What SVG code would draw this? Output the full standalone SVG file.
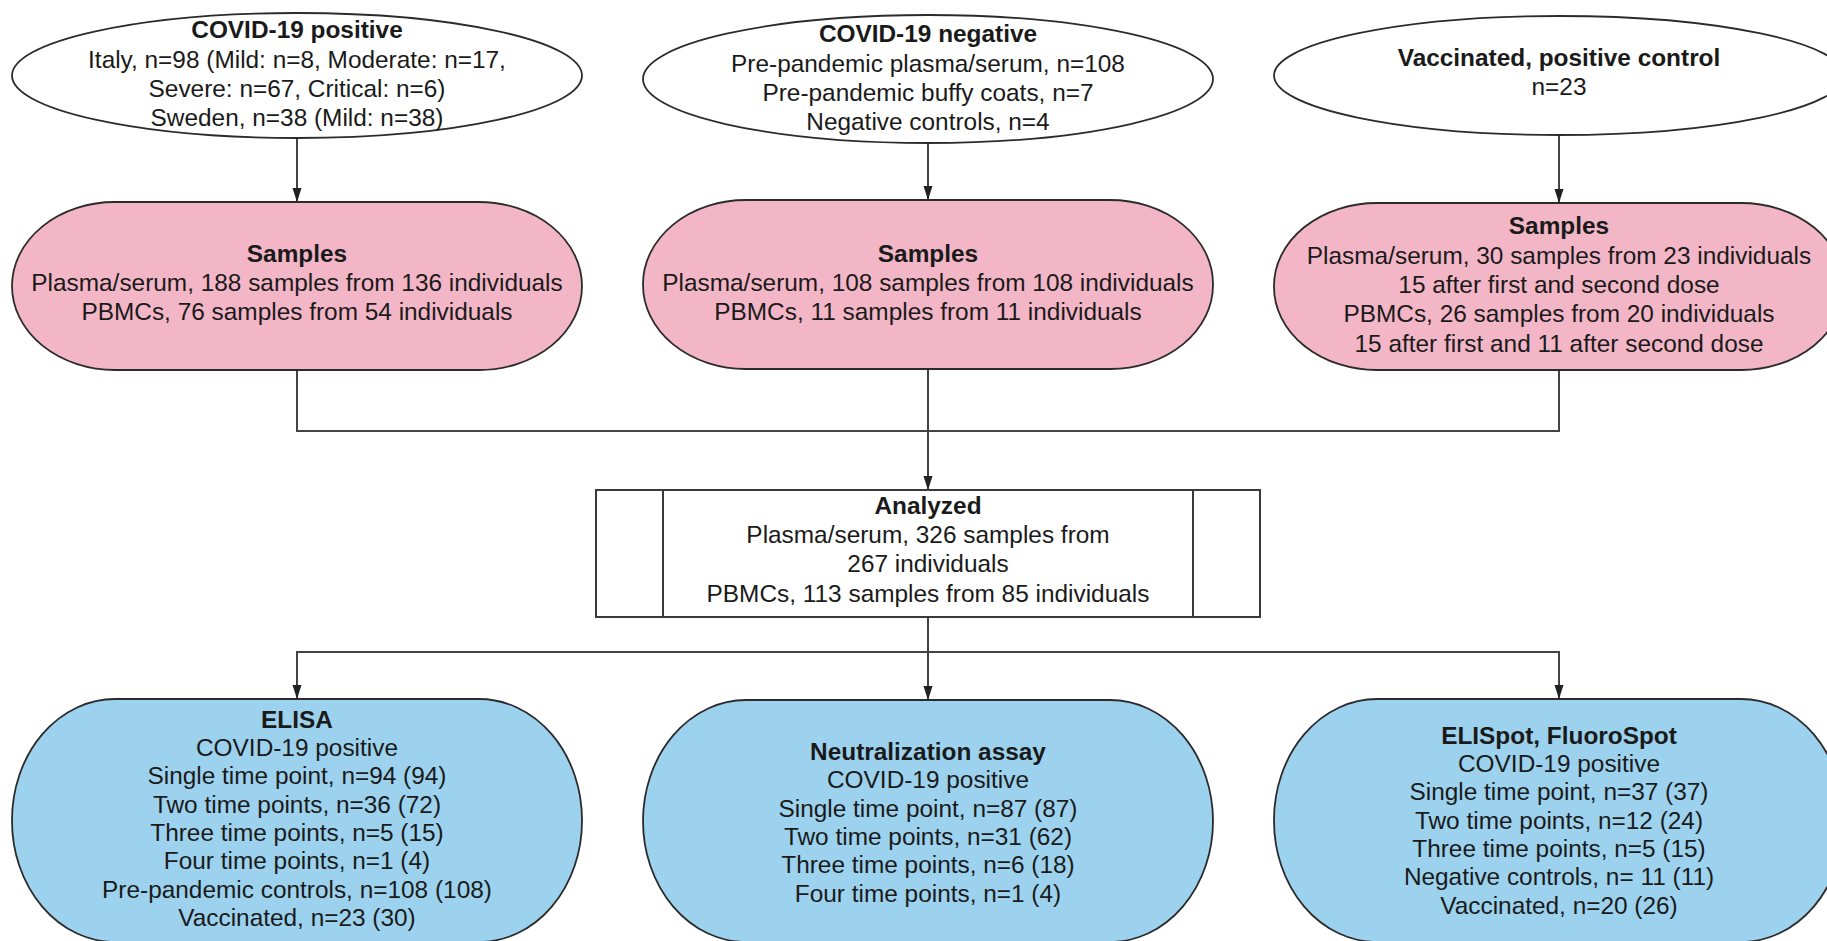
<svg xmlns="http://www.w3.org/2000/svg" width="1827" height="941" viewBox="0 0 1827 941">
<defs>
<style>
.t{font-family:"Liberation Sans",Arial,sans-serif;font-size:24.4px;fill:#1a1a1a;text-anchor:middle}
.b{font-weight:bold}
.wh{fill:#ffffff;stroke:#2b2b2b;stroke-width:1.8}
.pk{fill:#F3B6C6;stroke:#2b2b2b;stroke-width:1.8}
.bl{fill:#9CD2EE;stroke:#2b2b2b;stroke-width:1.8}
.box{fill:#ffffff;stroke:#3a3a3a;stroke-width:2}
.c{fill:none;stroke:#444;stroke-width:2}
</style>
<marker id="ah" markerUnits="userSpaceOnUse" markerWidth="14" markerHeight="10" refX="14" refY="5" orient="auto">
<path d="M0,0.5 L14,5 L0,9.5 z" fill="#222"/>
</marker>
</defs>
<rect width="1827" height="941" fill="#ffffff"/>

<g id="connectors">
<line class="c" x1="297" y1="138" x2="297" y2="202" marker-end="url(#ah)"/>
<line class="c" x1="928" y1="143" x2="928" y2="200" marker-end="url(#ah)"/>
<line class="c" x1="1559" y1="135" x2="1559" y2="203" marker-end="url(#ah)"/>
<polyline class="c" points="297,370 297,431 1559,431 1559,370"/>
<line class="c" x1="928" y1="369" x2="928" y2="490" marker-end="url(#ah)"/>
<line class="c" x1="928" y1="617" x2="928" y2="700" marker-end="url(#ah)"/>
<line class="c" x1="297" y1="652" x2="1559" y2="652"/>
<line class="c" x1="297" y1="651" x2="297" y2="699" marker-end="url(#ah)"/>
<line class="c" x1="1559" y1="651" x2="1559" y2="699" marker-end="url(#ah)"/>
</g>

<g id="covid-positive">
<ellipse class="wh" cx="297" cy="75.5" rx="285" ry="62.5"/>
<text class="t"><tspan class="b" x="297" y="38.3">COVID-19 positive</tspan><tspan x="297" y="67.6">Italy, n=98 (Mild: n=8, Moderate: n=17,</tspan><tspan x="297" y="96.9">Severe: n=67, Critical: n=6)</tspan><tspan x="297" y="126.2">Sweden, n=38 (Mild: n=38)</tspan></text>
</g>

<g id="covid-negative">
<ellipse class="wh" cx="928" cy="79" rx="285" ry="64"/>
<text class="t"><tspan class="b" x="928" y="42.3">COVID-19 negative</tspan><tspan x="928" y="71.6">Pre-pandemic plasma/serum, n=108</tspan><tspan x="928" y="100.9">Pre-pandemic buffy coats, n=7</tspan><tspan x="928" y="130.2">Negative controls, n=4</tspan></text>
</g>

<g id="vaccinated">
<ellipse class="wh" cx="1559" cy="75.5" rx="285" ry="59.5"/>
<text class="t"><tspan class="b" x="1559" y="66">Vaccinated, positive control</tspan><tspan x="1559" y="95.4">n=23</tspan></text>
</g>

<g id="samples-positive">
<rect class="pk" x="12" y="202" width="570" height="168" rx="103" ry="84"/>
<text class="t"><tspan class="b" x="297" y="261.8">Samples</tspan><tspan x="297" y="291.1">Plasma/serum, 188 samples from 136 individuals</tspan><tspan x="297" y="320.4">PBMCs, 76 samples from 54 individuals</tspan></text>
</g>

<g id="samples-negative">
<rect class="pk" x="643" y="200" width="570" height="169" rx="103" ry="84"/>
<text class="t"><tspan class="b" x="928" y="261.8">Samples</tspan><tspan x="928" y="291.1">Plasma/serum, 108 samples from 108 individuals</tspan><tspan x="928" y="320.4">PBMCs, 11 samples from 11 individuals</tspan></text>
</g>

<g id="samples-vaccinated">
<rect class="pk" x="1274" y="203" width="570" height="167" rx="103" ry="83"/>
<text class="t"><tspan class="b" x="1559" y="234.3">Samples</tspan><tspan x="1559" y="263.6">Plasma/serum, 30 samples from 23 individuals</tspan><tspan x="1559" y="292.9">15 after first and second dose</tspan><tspan x="1559" y="322.2">PBMCs, 26 samples from 20 individuals</tspan><tspan x="1559" y="351.5">15 after first and 11 after second dose</tspan></text>
</g>

<g id="analyzed">
<rect class="box" x="596" y="490" width="664" height="127"/>
<line class="box" x1="663" y1="490" x2="663" y2="617"/>
<line class="box" x1="1193" y1="490" x2="1193" y2="617"/>
<text class="t"><tspan class="b" x="928" y="513.8">Analyzed</tspan><tspan x="928" y="543.1">Plasma/serum, 326 samples from</tspan><tspan x="928" y="572.4">267 individuals</tspan><tspan x="928" y="601.7">PBMCs, 113 samples from 85 individuals</tspan></text>
</g>

<g id="elisa">
<rect class="bl" x="12" y="699" width="570" height="243" rx="103" ry="121"/>
<text class="t"><tspan class="b" x="297" y="727.8">ELISA</tspan><tspan x="297" y="756.1">COVID-19 positive</tspan><tspan x="297" y="784.4">Single time point, n=94 (94)</tspan><tspan x="297" y="812.7">Two time points, n=36 (72)</tspan><tspan x="297" y="841">Three time points, n=5 (15)</tspan><tspan x="297" y="869.3">Four time points, n=1 (4)</tspan><tspan x="297" y="897.6">Pre-pandemic controls, n=108 (108)</tspan><tspan x="297" y="925.9">Vaccinated, n=23 (30)</tspan></text>
</g>

<g id="neutralization">
<rect class="bl" x="643" y="700" width="570" height="242" rx="103" ry="121"/>
<text class="t"><tspan class="b" x="928" y="760">Neutralization assay</tspan><tspan x="928" y="788.3">COVID-19 positive</tspan><tspan x="928" y="816.6">Single time point, n=87 (87)</tspan><tspan x="928" y="844.9">Two time points, n=31 (62)</tspan><tspan x="928" y="873.2">Three time points, n=6 (18)</tspan><tspan x="928" y="901.5">Four time points, n=1 (4)</tspan></text>
</g>

<g id="elispot">
<rect class="bl" x="1274" y="699" width="570" height="243" rx="103" ry="121"/>
<text class="t"><tspan class="b" x="1559" y="743.8">ELISpot, FluoroSpot</tspan><tspan x="1559" y="772.1">COVID-19 positive</tspan><tspan x="1559" y="800.4">Single time point, n=37 (37)</tspan><tspan x="1559" y="828.7">Two time points, n=12 (24)</tspan><tspan x="1559" y="857">Three time points, n=5 (15)</tspan><tspan x="1559" y="885.3">Negative controls, n= 11 (11)</tspan><tspan x="1559" y="913.6">Vaccinated, n=20 (26)</tspan></text>
</g>
</svg>
